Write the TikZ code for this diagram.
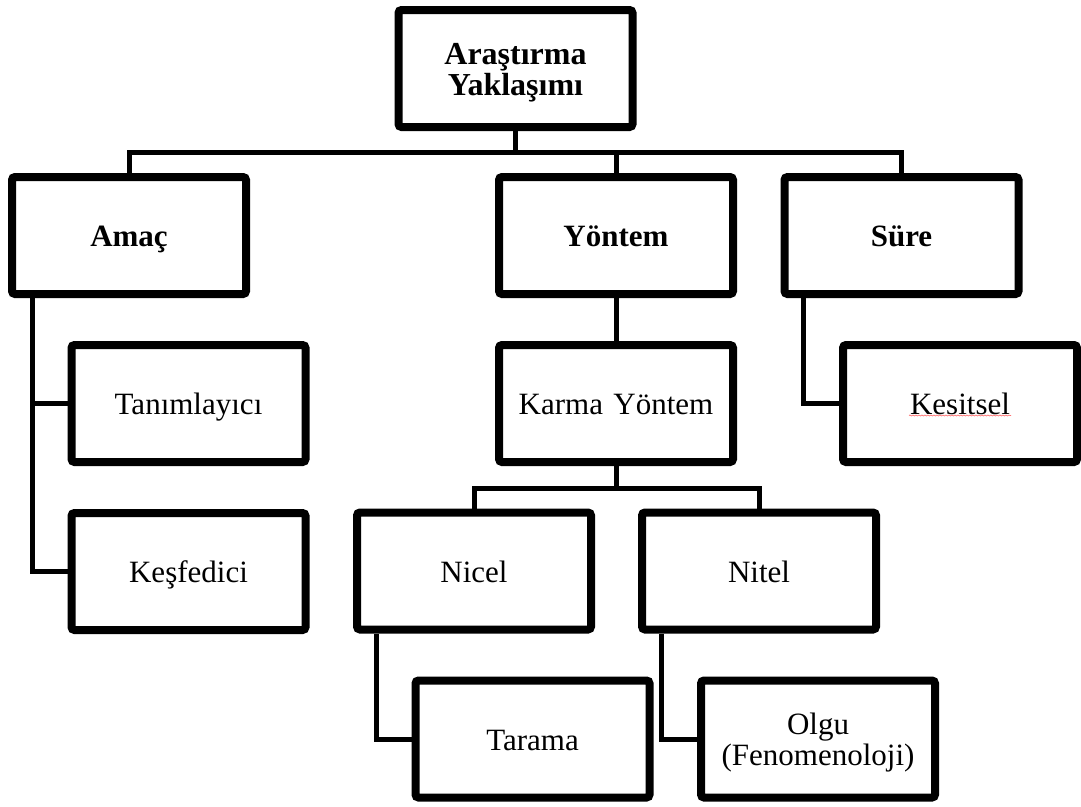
\documentclass[tikz,border=0pt]{standalone}
\usepackage{fontspec}
\setmainfont{Liberation Serif}
\usetikzlibrary{shadows,decorations.pathmorphing}
\begin{document}
\begin{tikzpicture}[x=1pt,y=-1pt,
  basebox/.style={draw=black, fill=white, line width=8pt, rounded corners=3pt,
    minimum width=234pt, minimum height=117pt, inner sep=0pt,
    text width=230pt, align=center,
    font=\fontsize{31pt}{31pt}\selectfont,
    drop shadow={shadow xshift=2pt, shadow yshift=-3pt, opacity=0.35, fill=black!60}},
  box/.style={basebox, text height=22pt, text depth=0pt},
  box2/.style={basebox, text height=22pt, text depth=31pt},
  hbox/.style={box, font=\fontsize{31pt}{31pt}\selectfont\bfseries},
  conn/.style={draw=black, line width=5pt}]
\useasboundingbox (0,0) rectangle (1081,806);
\node[box2, font=\fontsize{32pt}{31pt}\selectfont\bfseries] (top) at (515.5,68.5) {Araştırma\\Yaklaşımı};
\node[hbox] (amac) at (129,235.5) {Amaç};
\node[hbox] (yontem) at (616,235.5) {Yöntem};
\node[hbox] (sure) at (901.5,235.5) {Süre};
\node[box] (tanim) at (188.5,403.5) {Tanımlayıcı};
\node[box] (kesf) at (188.5,571.5) {Keşfedici};
\node[box] (karma) at (616,403.5) {Karma Yöntem};
\node[box] (kes) at (960,403.5) {Kesitsel};
\node[box] (nicel) at (474,571) {Nicel};
\node[box] (nitel) at (759,571) {Nitel};
\node[box] (tarama) at (532.5,739) {Tarama};
\node[box2] (olgu) at (818,739) {Olgu\\(Fenomenoloji)};
\coordinate (bus1) at (515.5,152.5);
\coordinate (bus2) at (616,488.5);
\draw[conn] (top.south) -- (top.south |- bus1);
\draw[conn] (amac.north) |- (bus1) -| (sure.north);
\draw[conn] (yontem.north) -- (yontem.north |- bus1);
\draw[conn] (yontem.south) -- (karma.north);
\draw[conn] ([xshift=24pt]amac.south west) |- (tanim.west);
\draw[conn] ([xshift=24pt]amac.south west) |- (kesf.west);
\draw[conn] ([xshift=23pt]sure.south west) |- (kes.west);
\draw[conn] (karma.south) -- (karma.south |- bus2);
\draw[conn] (nicel.north) |- (bus2) -| (nitel.north);
\draw[conn] ([xshift=23pt]nicel.south west) |- (tarama.west);
\draw[conn] ([xshift=23pt]nitel.south west) |- (olgu.west);
\draw[red!55, line width=0.7pt, decorate, decoration={snake, amplitude=0.5pt, segment length=3pt}]
  ([shift={(-51,12)}]kes.center) -- ([shift={(51,12)}]kes.center);
\end{tikzpicture}
\end{document}
